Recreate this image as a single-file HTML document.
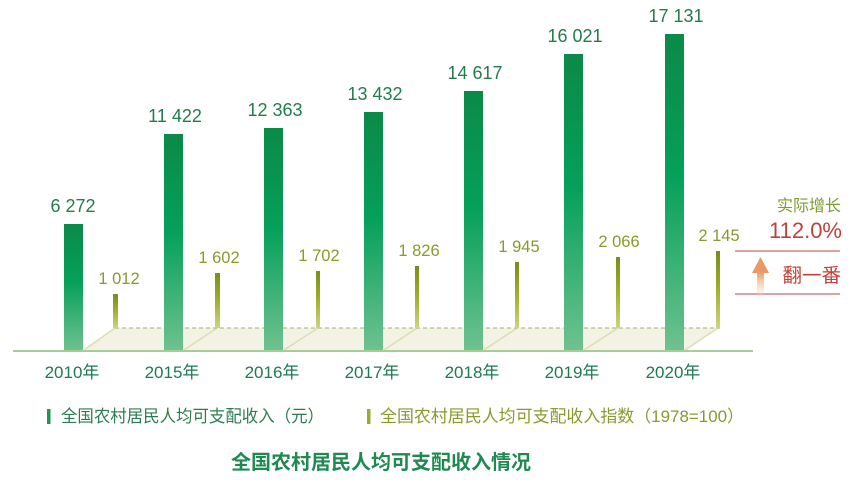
<!DOCTYPE html>
<html><head><meta charset="utf-8"><style>
html,body{margin:0;padding:0;background:#fff;}
svg{display:block;}
text{font-family:"Liberation Sans","Noto Sans CJK SC",sans-serif;}
</style></head><body>
<svg width="862" height="484" viewBox="0 0 862 484" xmlns="http://www.w3.org/2000/svg">
<defs>
<linearGradient id="gb" x1="0" y1="0" x2="0" y2="1">
<stop offset="0" stop-color="#0b8a47"/><stop offset="0.45" stop-color="#05a05b"/><stop offset="1" stop-color="#6fc28f"/>
</linearGradient>
<linearGradient id="gs" x1="0" y1="0" x2="0" y2="1">
<stop offset="0" stop-color="#7a8b1c"/><stop offset="0.5" stop-color="#9fb02a"/><stop offset="1" stop-color="#cdd47e"/>
</linearGradient>
<linearGradient id="ga" x1="0" y1="0" x2="0" y2="1">
<stop offset="0" stop-color="#e89a66"/><stop offset="1" stop-color="#fde8da" stop-opacity="0"/>
</linearGradient>
</defs>

<!-- floor -->
<polygon points="115,328 718,328 686,351 83,351" fill="#f2f3e4"/>
<g stroke="#d9dfb2" stroke-width="1.5">
<line x1="115" y1="328" x2="84" y2="350"/>
<line x1="217" y1="328" x2="184" y2="350"/>
<line x1="318" y1="328" x2="284" y2="350"/>
<line x1="417" y1="328" x2="384" y2="350"/>
<line x1="517" y1="328" x2="484" y2="350"/>
<line x1="618" y1="328" x2="584" y2="350"/>
<line x1="718" y1="328" x2="685" y2="350"/>
</g>
<line x1="115" y1="328" x2="720" y2="328" stroke="#a9b061" stroke-width="1" stroke-dasharray="4,3"/>

<!-- big bars -->
<rect x="64" y="224" width="19" height="127" fill="url(#gb)"/>
<rect x="164" y="134" width="19" height="217" fill="url(#gb)"/>
<rect x="264" y="128" width="19" height="223" fill="url(#gb)"/>
<rect x="364" y="112" width="19" height="239" fill="url(#gb)"/>
<rect x="464" y="91" width="19" height="260" fill="url(#gb)"/>
<rect x="564" y="54" width="19" height="297" fill="url(#gb)"/>
<rect x="665" y="34" width="19" height="317" fill="url(#gb)"/>

<!-- small bars -->
<rect x="113" y="294" width="5" height="34" fill="url(#gs)"/>
<rect x="215" y="273" width="5" height="55" fill="url(#gs)"/>
<rect x="316" y="271" width="4" height="57" fill="url(#gs)"/>
<rect x="415" y="266" width="4" height="62" fill="url(#gs)"/>
<rect x="515" y="262" width="4" height="66" fill="url(#gs)"/>
<rect x="616" y="257" width="4" height="71" fill="url(#gs)"/>
<rect x="716" y="251" width="4" height="77" fill="url(#gs)"/>

<line x1="13" y1="351" x2="753" y2="351" stroke="#a6cc98" stroke-width="2"/>

<!-- big labels -->
<g fill="#237c4c" font-size="18" text-anchor="middle">
<text x="73" y="212">6 272</text>
<text x="175" y="122">11 422</text>
<text x="275" y="116">12 363</text>
<text x="375" y="100">13 432</text>
<text x="475" y="79">14 617</text>
<text x="575" y="42">16 021</text>
<text x="676" y="22">17 131</text>
</g>
<!-- small labels -->
<g fill="#899a2c" font-size="16.5" text-anchor="middle">
<text x="119" y="284">1 012</text>
<text x="219" y="263">1 602</text>
<text x="319" y="261">1 702</text>
<text x="419" y="256">1 826</text>
<text x="519" y="252">1 945</text>
<text x="619" y="247">2 066</text>
<text x="719" y="241">2 145</text>
</g>
<!-- years -->
<g fill="#1e7a50" font-size="17" text-anchor="middle">
<text x="72" y="378">2010年</text>
<text x="172" y="378">2015年</text>
<text x="272" y="378">2016年</text>
<text x="372" y="378">2017年</text>
<text x="472" y="378">2018年</text>
<text x="572" y="378">2019年</text>
<text x="673" y="378">2020年</text>
</g>

<!-- annotation -->
<text x="841" y="211" fill="#7f9a2e" font-size="16" text-anchor="end">实际增长</text>
<text x="842" y="238" fill="#c2403a" font-size="22" text-anchor="end">112.0%</text>
<line x1="735" y1="251" x2="840" y2="251" stroke="#c96a6a" stroke-width="1.2"/>
<line x1="735" y1="294" x2="840" y2="294" stroke="#c96a6a" stroke-width="1.2"/>
<polygon points="760.5,257 769,273 752,273" fill="#e89a66"/>
<rect x="757" y="272" width="7" height="30" fill="url(#ga)"/>
<text x="841" y="282" fill="#c2403a" font-size="19.5" text-anchor="end">翻一番</text>

<!-- legend -->
<rect x="47" y="409" width="3.5" height="15" fill="#1a9656"/>
<text x="61" y="422" fill="#2a7d50" font-size="16.8" textLength="263" lengthAdjust="spacingAndGlyphs">全国农村居民人均可支配收入（元）</text>
<rect x="367" y="409" width="3.5" height="15" fill="#9aaa2a"/>
<text x="380" y="422" fill="#8a9a2c" font-size="16.8" textLength="364" lengthAdjust="spacingAndGlyphs">全国农村居民人均可支配收入指数（1978=100）</text>

<text x="381" y="469" fill="#1f8a50" font-size="20" font-weight="bold" text-anchor="middle">全国农村居民人均可支配收入情况</text>
</svg>
</body></html>
